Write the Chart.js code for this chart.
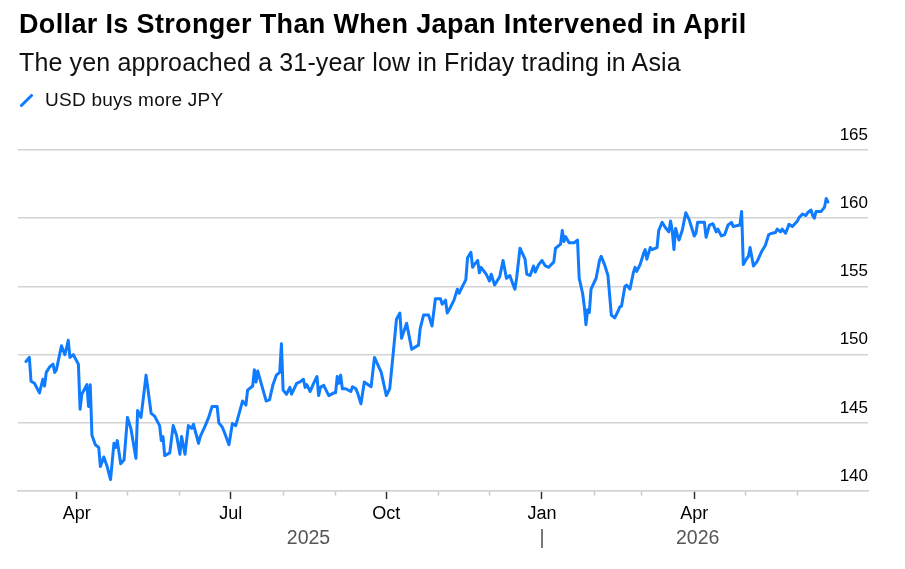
<!DOCTYPE html>
<html>
<head>
<meta charset="utf-8">
<script src="https://cdn.jsdelivr.net/npm/chart.js@4/dist/chart.umd.min.js"></script>
<style>
  html, body { margin: 0; padding: 0; background: #fff; }
  body { width: 905px; height: 569px; position: relative; overflow: hidden; font-family: "Liberation Sans", Arial, sans-serif; }
  .hd { position: absolute; white-space: nowrap; line-height: 1; }
  #title { left: 19px; top: 11px; font-size: 27px; font-weight: bold; color: #000; letter-spacing: 0.35px; }
  #subtitle { left: 19px; top: 50px; font-size: 25px; color: #111; letter-spacing: 0.15px; }
  #legend { left: 45px; top: 90px; font-size: 19px; color: #111; letter-spacing: 0.25px; }
  #mark { position: absolute; left: 25px; top: 91.5px; width: 3px; height: 17px; background: #0f7bff; transform: rotate(45deg); border-radius: 1px; }
  #wrap { position: absolute; left: 0; top: 0; width: 905px; height: 569px; }
</style>
</head>
<body>
<div id="wrap"><canvas id="chart-fx" width="905" height="569"></canvas></div>
<div id="title" class="hd">Dollar Is Stronger Than When Japan Intervened in April</div>
<div id="subtitle" class="hd">The yen approached a 31-year low in Friday trading in Asia</div>
<div id="mark"></div>
<div id="legend" class="hd">USD buys more JPY</div>
<script>
(() => {
  'use strict';

  // day number = days since 2025-03-01
  const dayNum = [
    1, 3, 4, 6, 9, 11, 12, 13, 15, 17, 18, 19, 22, 24, 25, 26, 27, 29, 32, 33,
    34, 37, 38, 39, 40, 42, 44, 45, 47, 49, 51, 53, 54, 55, 57, 59, 61, 63, 66, 67,
    69, 72, 75, 77, 80, 81, 82, 83, 86, 88, 90, 92, 93, 95, 97, 99, 100, 103, 104, 107,
    109, 111, 114, 115, 117, 118, 121, 123, 125, 129, 131, 132, 135, 136, 137, 138, 143, 145, 147, 149,
    151, 152, 153, 155, 157, 158, 161, 163, 165, 166, 167, 169, 171, 173, 174, 175, 177, 180, 183, 184,
    185, 186, 187, 188, 190, 193, 194, 196, 197, 199, 201, 202, 205, 207, 211, 214, 216, 218, 220, 222,
    223, 226, 229, 233, 234, 236, 239, 241, 243, 246, 247, 249, 250, 252, 254, 256, 257, 259, 261, 262,
    264, 265, 266, 268, 269, 270, 273, 275, 276, 278, 281, 283, 285, 287, 289, 290, 291, 293, 296, 297,
    299, 301, 302, 304, 306, 308, 310, 313, 314, 317, 318, 319, 320, 322, 325, 327, 328, 330, 331, 332,
    333, 334, 335, 338, 340, 341, 343, 345, 347, 349, 351, 352, 353, 355, 356, 358, 360, 361, 362, 364,
    366, 367, 368, 370, 371, 374, 375, 377, 379, 381, 382, 383, 384, 385, 386, 387, 389, 390, 391, 393,
    395, 396, 397, 398, 402, 403, 405, 407, 409, 410, 412, 414, 416, 418, 419, 423, 424, 425, 427, 428,
    429, 431, 433, 434, 436, 438, 440, 442, 444, 445, 447, 448, 450, 452, 454, 457, 458, 460, 462, 463,
    465, 466, 467, 468, 471, 473, 474, 475
  ];

  // USD/JPY close
  const usdJpy = [
    149.5, 149.8, 148.05, 147.9, 147.2, 148.2, 147.7, 148.7, 149.1, 149.3, 148.7, 148.9, 150.65, 150.0, 150.5, 151.05, 149.8, 150.0, 149.3, 146.0,
    147.1, 147.8, 146.2, 147.8, 144.1, 143.4, 143.2, 141.8, 142.5, 141.8, 140.85, 143.5, 143.2, 143.7, 142.0, 142.3, 145.4, 144.6, 142.4, 145.9,
    145.4, 148.5, 145.7, 145.5, 144.8, 143.7, 144.0, 142.6, 142.8, 144.8, 144.1, 142.7, 144.0, 142.7, 144.8, 144.6, 144.9, 143.5, 144.0, 144.8,
    145.4, 146.2, 146.2, 145.0, 144.7, 144.4, 143.4, 144.95, 144.8, 146.6, 146.3, 147.4, 147.7, 148.9, 148.0, 148.8, 146.6, 146.7, 147.8, 148.5,
    148.7, 150.8, 147.4, 147.1, 147.6, 147.1, 147.9, 148.0, 148.2, 147.6, 147.8, 147.3, 147.9, 148.4, 147.0, 147.6, 147.75, 147.0, 147.2, 147.2,
    148.4, 147.9, 148.5, 147.5, 147.5, 147.3, 147.65, 147.5, 147.2, 146.4, 148.0, 147.9, 147.65, 149.8, 148.7, 147.0, 147.5, 150.0, 152.6, 153.05,
    151.2, 152.3, 150.4, 150.7, 151.9, 152.9, 152.9, 152.1, 154.1, 154.1, 153.7, 154.0, 153.05, 153.5, 154.0, 154.8, 154.5, 155.0, 155.5, 157.1,
    157.5, 156.4, 156.6, 156.9, 156.0, 156.4, 155.9, 155.4, 155.9, 155.1, 155.7, 156.9, 155.6, 155.8, 155.1, 154.8, 155.6, 157.8, 157.0, 155.9,
    155.8, 156.5, 156.05, 156.6, 156.9, 156.5, 156.4, 156.8, 157.8, 158.1, 159.1, 158.3, 158.65, 158.2, 158.2, 158.4, 155.6, 154.5, 153.55, 152.2,
    153.3, 153.1, 154.8, 155.6, 156.9, 157.2, 156.6, 155.8, 152.9, 152.7, 153.2, 153.5, 153.55, 155.0, 155.1, 154.8, 156.0, 156.4, 156.1, 156.6,
    157.4, 157.7, 157.0, 157.85, 157.7, 157.85, 159.1, 159.7, 159.3, 159.0, 159.8, 159.1, 157.7, 159.25, 158.8, 158.4, 159.15, 159.8, 160.4, 159.9,
    159.1, 158.7, 158.9, 159.7, 159.7, 158.6, 159.5, 159.6, 159.0, 159.2, 158.7, 158.8, 159.5, 159.7, 159.4, 159.5, 160.5, 156.6, 157.05, 157.2,
    157.85, 156.5, 156.8, 157.05, 157.6, 158.0, 158.8, 158.9, 158.95, 159.2, 159.0, 159.2, 158.9, 159.55, 159.4, 159.8, 160.05, 160.3, 160.2, 160.4,
    160.6, 160.2, 160.0, 160.5, 160.5, 160.8, 161.45, 161.2
  ];

  // month starts (days since 2025-03-01) and their labels
  const monthDays = [31, 61, 92, 122, 153, 184, 214, 245, 275, 306, 337, 365, 396, 426, 457];
  const monthLabels = ['Apr', '', '', 'Jul', '', '', 'Oct', '', '', 'Jan', '', '', 'Apr', '', ''];

  // year row under the months (second line of the same axis)
  const yearDays = [168, 306, 398];
  const yearLabels = ['2025', '|', '2026'];

  const yTicks = [140, 145, 150, 155, 160, 165];

  const X_MIN = -3.7, X_MAX = 498.7;
  const GRID = '#d3d3d3';
  const FONT = '"Liberation Sans", Arial, sans-serif';
  const NM = monthDays.length;
  const isMonth = (i) => i < NM;

  new Chart(document.getElementById('chart-fx'), {
    type: 'line',
    data: {
      datasets: [{
        label: 'USD buys more JPY',
        data: dayNum.map((d, i) => ({ x: d, y: usdJpy[i] })),
        borderColor: '#0f7bff',
        borderWidth: 3,
        pointRadius: 0,
        tension: 0,
        borderJoinStyle: 'round',
        borderCapStyle: 'round',
      }],
    },
    options: {
      responsive: false,
      animation: false,
      layout: { padding: { left: 18, right: 37, top: 150, bottom: 14.9 } },
      scales: {
        x: {
          type: 'linear',
          min: X_MIN,
          max: X_MAX,
          afterBuildTicks: (s) => {
            s.ticks = monthDays.concat(yearDays).map((v) => ({ value: v }));
          },
          ticks: {
            autoSkip: false,
            maxRotation: 0,
            padding: 4.2,
            color: (c) => (isMonth(c.index) ? '#000' : '#555'),
            font: (c) => (isMonth(c.index)
              ? { family: FONT, size: 18 }
              : { family: FONT, size: 19.5, lineHeight: 23.3 / 19.5 }),
            callback: (v, i) => (isMonth(i) ? monthLabels[i] : ['', yearLabels[i - NM]]),
          },
          grid: {
            drawOnChartArea: false,
            tickLength: 8,
            tickWidth: 1.5,
            tickColor: (c) => {
              if (!isMonth(c.index)) return 'rgba(0,0,0,0)';
              return monthLabels[c.index] ? '#333' : '#c8c8c8';
            },
            tickBorderDash: (c) => (isMonth(c.index) && !monthLabels[c.index] ? [4, 20] : []),
          },
          border: { color: GRID, width: 1.5 },
        },
        y: {
          position: 'right',
          min: 140,
          max: 165,
          afterBuildTicks: (s) => { s.ticks = yTicks.map((v) => ({ value: v })); },
          ticks: {
            mirror: true,
            padding: 0,
            labelOffset: -15,
            color: '#000',
            font: { family: FONT, size: 17 },
          },
          grid: { color: GRID, lineWidth: 1.5, drawTicks: false },
          border: { display: false },
        },
      },
      plugins: {
        legend: { display: false },
        tooltip: { enabled: false },
      },
    },
  });
})();
</script>
</body>
</html>
